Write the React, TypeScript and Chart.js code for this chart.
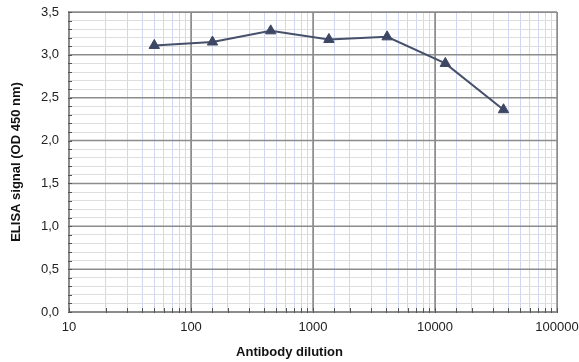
import React, { useEffect, useRef } from "react";
import { Chart, registerables } from "chart.js";

Chart.register(...registerables);

const dilutions = [50, 150, 450, 1350, 4050, 12150, 36450];
const signal = [3.11, 3.15, 3.28, 3.18, 3.21, 2.9, 2.36];
const xTitle = "Antibody dilution";
const yTitle = "ELISA signal (OD 450 nm)";

const isPow10 = (v: number) => {
  const l = Math.log10(v);
  return Math.abs(l - Math.round(l)) < 1e-9;
};
const isHalf = (v: number) => Math.abs(v * 2 - Math.round(v * 2)) < 1e-6;

const extras = {
  id: "extras",
  beforeDatasetsDraw(chart: any) {
    const { ctx, scales, chartArea } = chart;
    const x = scales.x;
    const y = scales.y;
    ctx.save();
    ctx.strokeStyle = "#8c8c8c";
    ctx.lineWidth = 1.5;
    ctx.beginPath();
    x.ticks.forEach((t: any) => {
      if (!isPow10(t.value)) return;
      const px = x.getPixelForValue(t.value);
      ctx.moveTo(px, chartArea.top);
      ctx.lineTo(px, chartArea.bottom);
    });
    y.ticks.forEach((t: any) => {
      if (!isHalf(t.value)) return;
      const py = y.getPixelForValue(t.value);
      ctx.moveTo(chartArea.left, py);
      ctx.lineTo(chartArea.right, py);
    });
    ctx.stroke();
    ctx.restore();
  },
  afterDatasetsDraw(chart: any) {
    const { ctx, scales, chartArea } = chart;
    const x = scales.x;
    const y = scales.y;
    ctx.save();
    ctx.strokeStyle = "#555";
    ctx.lineWidth = 1;
    ctx.beginPath();
    x.ticks.forEach((t: any) => {
      const px = Math.round(x.getPixelForValue(t.value)) + 0.5;
      ctx.moveTo(px, chartArea.bottom - 4);
      ctx.lineTo(px, chartArea.bottom + 1);
    });
    y.ticks.forEach((t: any) => {
      const py = Math.round(y.getPixelForValue(t.value)) + 0.5;
      ctx.moveTo(chartArea.left - 1, py);
      ctx.lineTo(chartArea.left + 3, py);
    });
    ctx.stroke();
    ctx.fillStyle = "#111";
    ctx.font = "bold 13px 'Liberation Sans'";
    ctx.textAlign = "center";
    ctx.textBaseline = "middle";
    ctx.fillText(xTitle, chart.width / 2, 352);
    ctx.translate(16, (chartArea.top + chartArea.bottom) / 2);
    ctx.rotate(-Math.PI / 2);
    ctx.fillText(yTitle, 0, 0);
    ctx.restore();
  },
};

export default function App() {
  const ref = useRef<HTMLCanvasElement | null>(null);
  useEffect(() => {
    if (!ref.current) return;
    const chart = new Chart(ref.current, {
      type: "line",
      data: {
        datasets: [
          {
            data: dilutions.map((d, i) => ({ x: d, y: signal[i] })),
            borderColor: "#46506b",
            backgroundColor: "#3d4763",
            borderWidth: 2,
            pointStyle: "triangle",
            pointRadius: 6,
            pointBorderWidth: 1,
            pointBorderColor: "#3d4763",
            tension: 0,
          },
        ],
      },
      plugins: [extras],
      options: {
        animation: false,
        responsive: true,
        maintainAspectRatio: false,
        layout: { padding: { top: 12, right: 22, left: 0, bottom: 0 } },
        plugins: { legend: { display: false }, tooltip: { enabled: false } },
        scales: {
          x: {
            type: "logarithmic",
            min: 10,
            max: 100000,
            afterFit: (s: any) => {
              s.height = 50;
              s.paddingLeft = 0;
              s.paddingRight = 0;
            },
            grid: {
              drawTicks: false,
              color: (c: any) => (c.tick && isPow10(c.tick.value) ? "#8c8c8c" : "#d0d8f5"),
              lineWidth: 1,
            },
            border: { color: "#8c8c8c", width: 1.5 },
            ticks: {
              autoSkip: false,
              maxRotation: 0,
              padding: 8,
              color: "#222",
              font: { family: "Liberation Sans", size: 13 },
              callback: (v: any) => (isPow10(Number(v)) ? String(Math.round(Number(v))) : ""),
            },
          },
          y: {
            type: "linear",
            min: 0,
            max: 3.5,
            afterFit: (s: any) => {
              s.width = 69;
              s.paddingTop = 0;
              s.paddingBottom = 0;
            },
            grid: {
              drawTicks: false,
              color: (c: any) => (c.tick && isHalf(c.tick.value) ? "#8c8c8c" : "#dedede"),
              lineWidth: 1,
            },
            border: { color: "#8c8c8c", width: 1.5 },
            ticks: {
              stepSize: 0.1,
              autoSkip: false,
              padding: 10,
              color: "#222",
              font: { family: "Liberation Sans", size: 13 },
              callback: (v: any) =>
                isHalf(Number(v)) ? Number(v).toFixed(1).replace(".", ",") : "",
            },
          },
        },
      },
    } as any);
    return () => chart.destroy();
  }, []);
  return (
    <div style={{ position: "absolute", left: 0, top: 0, width: 579, height: 362, background: "#fff" }}>
      <canvas ref={ref} />
    </div>
  );
}
